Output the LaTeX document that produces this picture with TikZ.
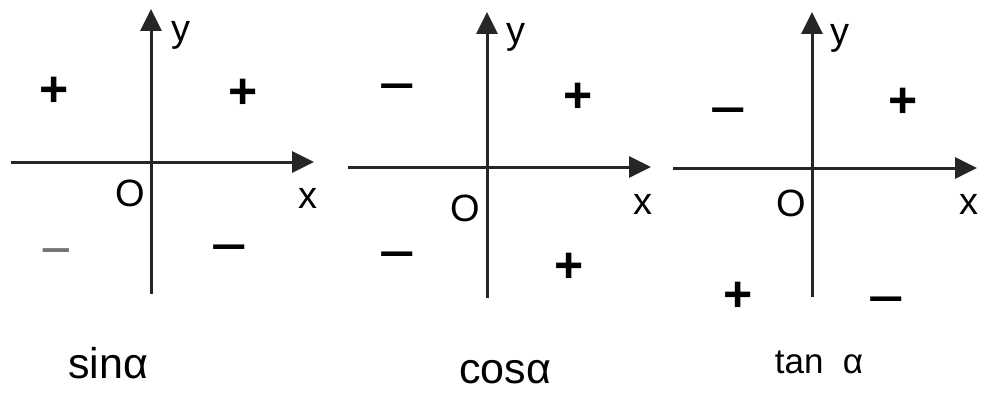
\documentclass[tikz,border=0pt]{standalone}
\usepackage{fontspec}
\setmainfont{Liberation Sans}
\usetikzlibrary{arrows.meta}
\tikzset{
  axis/.style={line width=3pt, draw=black!85, -{Triangle[length=22pt,width=21pt]}},
  lbl/.style={inner sep=0pt, font=\fontsize{38}{38}\selectfont},
  plussgn/.style={inner sep=0pt, font=\fontsize{50}{50}\selectfont\bfseries},
  minussgn/.style={inner sep=0pt, yshift=-10pt, font=\fontsize{64}{64}\selectfont},
  captext/.style={inner sep=0pt, anchor=base, font=\fontsize{43}{43}\selectfont},
}
\begin{document}
\begin{tikzpicture}[x=1pt,y=-1pt]
\useasboundingbox (0,0) rectangle (986,396);
% panel 1
\coordinate (ax1l) at (11,162); \coordinate (ax1r) at (314,162);
\coordinate (ay1b) at (151,294); \coordinate (ay1t) at (151,9);
\draw[axis] (ax1l) -- (ax1r);
\draw[axis] (ay1b) -- (ay1t);
\node[lbl] (y1) at (181,35) {y};
\node[lbl] (x1) at (308,198) {x};
\node[lbl] (o1) at (130,193) {O};
\node[plussgn] (p1a) at (54,92) {+};
\node[plussgn] (p1b) at (243,94) {+};
\node[inner sep=0pt, yshift=-8pt, font=\fontsize{54}{54}\selectfont, text=black!55] (m1c) at (56,251) {−};
\node[minussgn] (m1d) at (229,247) {−};
\node[captext] (c1) at (108,378) {sinα};
% panel 2
\coordinate (ax2l) at (348,167); \coordinate (ax2r) at (651,167);
\coordinate (ay2b) at (487,298); \coordinate (ay2t) at (487,12);
\draw[axis] (ax2l) -- (ax2r);
\draw[axis] (ay2b) -- (ay2t);
\node[lbl] (y2) at (516,37) {y};
\node[lbl] (x2) at (643,204) {x};
\node[lbl] (o2) at (465,208) {O};
\node[minussgn] (m2a) at (397,86) {−};
\node[plussgn] (p2b) at (578,98) {+};
\node[minussgn] (m2c) at (397,254) {−};
\node[plussgn] (p2d) at (569,268) {+};
\node[captext] (c2) at (505,383) {cosα};
% panel 3
\coordinate (ax3l) at (673,168); \coordinate (ax3r) at (977,168);
\coordinate (ay3b) at (812,297); \coordinate (ay3t) at (812,12);
\draw[axis] (ax3l) -- (ax3r);
\draw[axis] (ay3b) -- (ay3t);
\node[lbl] (y3) at (840,38) {y};
\node[lbl] (x3) at (969,204) {x};
\node[lbl] (o3) at (791,203) {O};
\node[minussgn] (m3a) at (728,110) {−};
\node[plussgn] (p3b) at (903,103) {+};
\node[plussgn] (p3c) at (738,297) {+};
\node[minussgn] (m3d) at (886,299) {−};
\node[inner sep=0pt, anchor=base, font=\fontsize{35}{35}\selectfont] (c3) at (819,373) {tan\ \ α};
\end{tikzpicture}
\end{document}
